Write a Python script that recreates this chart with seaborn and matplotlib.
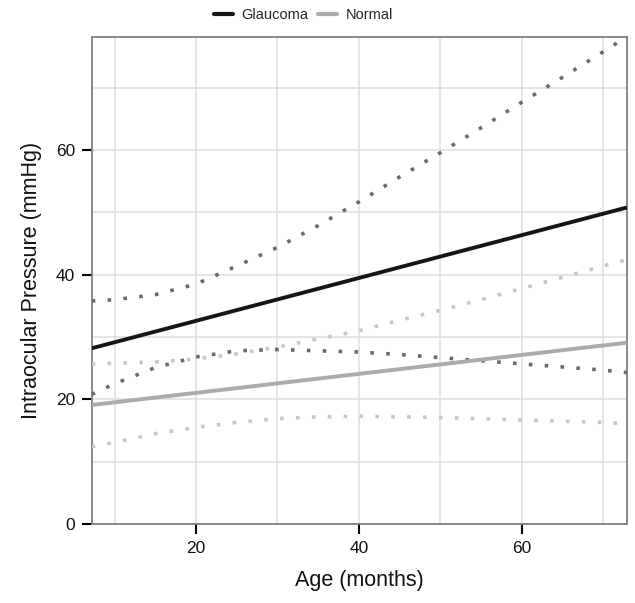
import numpy as np
import pandas as pd
import matplotlib
matplotlib.use("Agg")
import matplotlib.pyplot as plt
from matplotlib.lines import Line2D
from matplotlib.ticker import MultipleLocator
import seaborn as sns

# ---- data ----
groups = ["Glaucoma", "Normal"]
fit_age = [7.2, 72.9]
glaucoma_fit = [28.2, 50.8]
normal_fit = [19.1, 29.1]

band_age = [7.2, 10, 15, 20, 25, 30, 35, 40, 45, 50, 55, 60, 65, 70, 72.9]
glaucoma_upper = [35.8, 36.0, 36.8, 38.5, 41.4, 44.4, 47.9, 51.7, 55.7, 59.6, 63.6, 67.7, 71.7, 75.8, 78.2]
glaucoma_lower = [20.8, 22.5, 25.1, 26.8, 27.8, 28.0, 27.8, 27.6, 27.2, 26.7, 26.2, 25.7, 25.2, 24.7, 24.3]
normal_upper = [25.7, 25.8, 26.0, 26.5, 27.3, 28.4, 29.7, 31.0, 32.7, 34.3, 36.0, 37.8, 39.6, 41.4, 42.4]
normal_lower = [12.4, 13.1, 14.5, 15.5, 16.3, 16.9, 17.2, 17.3, 17.2, 17.1, 16.9, 16.7, 16.5, 16.3, 16.1]

x_ticks = [20, 40, 60]
y_ticks = [0, 20, 40, 60]

sns.set_theme(style="white")
plt.rcParams["font.family"] = ["Liberation Sans", "DejaVu Sans"]

fig = plt.figure(figsize=(6.35, 6.03), dpi=100)
ax = fig.add_axes([0.1444, 0.131, 0.9874 - 0.1444, 0.9391 - 0.131])

solid_col = {"Glaucoma": "#161616", "Normal": "#ababab"}
dot_col = {"Glaucoma": "#6a6a6a", "Normal": "#c6c6c6"}
fits = {"Glaucoma": glaucoma_fit, "Normal": normal_fit}
bands = {"Glaucoma": (glaucoma_upper, glaucoma_lower), "Normal": (normal_upper, normal_lower)}

for g in ["Normal", "Glaucoma"]:
    up, lo = bands[g]
    for yv in (up, lo):
        sns.lineplot(x=band_age, y=yv, ax=ax, color=dot_col[g], linewidth=2.6,
                     linestyle=(0, (1, 3.4)), zorder=3)
for g in ["Normal", "Glaucoma"]:
    sns.lineplot(x=fit_age, y=fits[g], ax=ax, color=solid_col[g], linewidth=2.8,
                 zorder=4, solid_capstyle="butt")

ax.set_xlim(7.2, 72.9)
ax.set_ylim(0, 78.2)
ax.xaxis.set_major_locator(MultipleLocator(20))
ax.xaxis.set_minor_locator(MultipleLocator(10))
ax.yaxis.set_major_locator(MultipleLocator(20))
ax.yaxis.set_minor_locator(MultipleLocator(10))
ax.set_xticks(x_ticks)
ax.set_yticks(y_ticks)
ax.grid(True, which="both", color="#dedede", linewidth=1.1, zorder=0)
ax.set_axisbelow(True)
for s in ax.spines.values():
    s.set_color("#808080")
    s.set_linewidth(1.3)
ax.tick_params(axis="both", which="major", direction="out", length=7, width=1.5,
               color="black", labelsize=12.5, labelcolor="#111111", pad=5,
               bottom=True, left=True)
ax.tick_params(axis="both", which="minor", length=0)
ax.set_xlabel("Age (months)", fontsize=15.5, color="#111111", labelpad=10)
ax.set_ylabel("Intraocular Pressure (mmHg)", fontsize=15.5, color="#111111", labelpad=10)

handles = [Line2D([], [], color=solid_col[g], linewidth=3.0) for g in groups]
fig.legend(handles, groups, loc="center", bbox_to_anchor=(0.478, 0.975), ncol=2,
           frameon=False, fontsize=10.5, handlelength=1.3, handletextpad=0.55,
           columnspacing=0.7)

fig.savefig("out.png", dpi=100)
